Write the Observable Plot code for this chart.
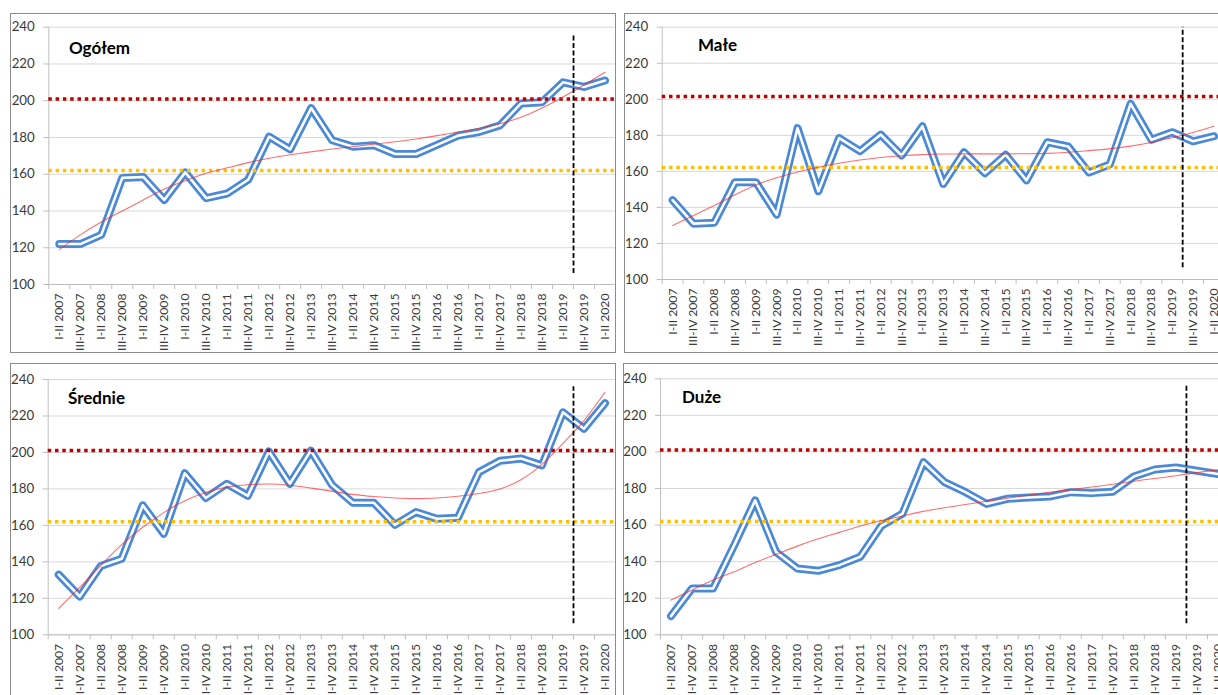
<!DOCTYPE html>
<html>
<head>
<meta charset="utf-8">
<script src="https://cdn.jsdelivr.net/npm/d3@7"></script>
<script src="https://cdn.jsdelivr.net/npm/@observablehq/plot@0.6"></script>
<style>
  html, body { margin: 0; padding: 0; background: #fff; }
  body { width: 1218px; height: 695px; overflow: hidden; position: relative; font-family: Lato, "Noto Sans", sans-serif; }
  .panel { position: absolute; box-sizing: border-box; border: 1px solid #8c8c8c; overflow: hidden; background: #fff; }
  .panel svg { position: absolute; left: -1px; top: -1px; max-width: none !important; overflow: visible; }
</style>
</head>
<body>
<script>
// ---- categories / tick labels ----
const periods = [
  "I-II 2007","III-IV 2007","I-II 2008","III-IV 2008","I-II 2009","III-IV 2009",
  "I-II 2010","III-IV 2010","I-II 2011","III-IV 2011","I-II 2012","III-IV 2012",
  "I-II 2013","III-IV 2013","I-II 2014","III-IV 2014","I-II 2015","III-IV 2015",
  "I-II 2016","III-IV 2016","I-II 2017","III-IV 2017","I-II 2018","III-IV 2018",
  "I-II 2019","III-IV 2019","I-II 2020"
];
const yTicks = [100, 120, 140, 160, 180, 200, 220, 240];

// ---- series values ----
const ogolem = [122, 122, 127, 158, 158.5, 146, 161, 147, 149.5, 157, 180.5, 173.5, 196, 178.5, 175, 175.8, 171, 171, 176, 181, 183, 186.6, 198.5, 199.2, 210, 207.5, 211];
const ogolemTrend = [119, 127, 134, 140, 146, 152, 156.5, 160.5, 163.5, 166.3, 168.7, 170.6, 172.2, 173.7, 175, 176.3, 177.7, 179.2, 181, 183, 185, 187.5, 191, 196, 202, 208.5, 215.5];

const male = [144, 131, 131.5, 154, 154, 136, 184, 149, 178.5, 171.2, 180.4, 168.8, 185, 153, 170.6, 159, 169.2, 155, 176.2, 173.8, 159.4, 163.8, 197.5, 177.5, 181.7, 176.7, 179.5];
const maleTrend = [130, 135.5, 141, 147, 152.5, 156.5, 159.7, 162.3, 164.5, 166.3, 167.7, 168.7, 169.3, 169.6, 169.7, 169.7, 169.7, 169.8, 170, 170.6, 171.5, 172.5, 174, 176, 178.7, 181.6, 185];

const srednie = [133, 121, 137.7, 141.7, 171, 155.4, 188.6, 175, 182.8, 176.2, 200.5, 182.8, 201, 182.3, 172.4, 172.4, 160.3, 167.3, 163.6, 164.2, 189.2, 195.4, 196.7, 192.9, 222, 213, 227];
const srednieTrend = [114.5, 126, 138, 149.5, 159, 167, 173.5, 178, 181, 182.3, 182.7, 182, 180.5, 178.8, 177, 175.8, 175, 174.7, 175, 176, 177.5, 180, 185, 193.5, 205, 217.5, 233];

const duze = [110.2, 125.3, 125.3, 148.9, 173.5, 145.2, 136.3, 135, 138.1, 142.7, 159.6, 166.2, 194.4, 183.5, 178, 171.6, 174.4, 175.1, 175.6, 178, 177.5, 178.2, 186.6, 190.4, 191.5, 189.7, 187.9];
const duzeTrend = [119, 124.5, 130, 134.5, 139.5, 144, 148.5, 152.5, 156, 159.5, 162.5, 165, 167.5, 169.5, 171.3, 173, 174.7, 176.3, 178, 179.4, 180.8, 182.3, 184, 185.5, 187, 188.7, 190.3];

// ---- reference levels ----
const titles = ["Ogółem", "Małe", "Średnie", "Duże"];
const redLevel = [201, 201.5, 201, 201];
const yellowLevel = [162, 162.2, 162, 162];
const markerAt = 24.5;                 // between I-II 2019 and III-IV 2019
const markerFrom = [106, 106.5, 106, 106];
const markerTo = [236, 240, 236, 236];

// ---- layout (page px) ----
const panels = [
  {left: 10,  top: 13,  w: 606, h: 340, svgW: 605, svgH: 340, ml: 38.3, mr: 0,   mt: 13.7, mb: 69,   tx: 68,  ty: 52.7},
  {left: 624, top: 13,  w: 640, h: 340, svgW: 600, svgH: 340, ml: 37.7, mr: 0.2, mt: 13.7, mb: 74,   tx: 697, ty: 50},
  {left: 10,  top: 363, w: 606, h: 400, svgW: 605, svgH: 340, ml: 37.7, mr: 0,   mt: 16,   mb: 68.7, tx: 67,  ty: 403},
  {left: 623, top: 363, w: 640, h: 400, svgW: 605, svgH: 340, ml: 37,   mr: 0,   mt: 15.3, mb: 68.7, tx: 681, ty: 402}
];
const seriesList = [ogolem, male, srednie, duze];
const trendList = [ogolemTrend, maleTrend, srednieTrend, duzeTrend];

const BLUE = "#4a89d6";
const idx = periods.map((_, i) => i);
const bounds = periods.map((_, i) => i - 0.5).concat([periods.length - 0.5]);

panels.forEach((p, k) => {
  const data = seriesList[k].map((v, i) => ({i, v}));
  const trend = trendList[k].map((v, i) => ({i, v}));
  const div = document.createElement("div");
  div.className = "panel";
  Object.assign(div.style, {left: p.left + "px", top: p.top + "px", width: p.w + "px", height: p.h + "px"});
  document.body.appendChild(div);

  const svg = Plot.plot({
    width: p.svgW, height: p.svgH,
    marginLeft: p.ml, marginRight: p.mr, marginTop: p.mt, marginBottom: p.mb,
    x: {type: "linear", domain: [-0.5, periods.length - 0.5], label: null},
    y: {type: "linear", domain: [100, 240], label: null},
    style: {fontFamily: "Lato, 'Noto Sans', sans-serif", background: "transparent", overflow: "visible"},
    marks: [
      Plot.gridY(yTicks, {stroke: "#d9d9d9", strokeOpacity: 1, strokeWidth: 1}),
      Plot.ruleY([100], {stroke: "#bfbfbf"}),
      Plot.ruleX([-0.5], {stroke: "#bfbfbf"}),
      Plot.axisY(yTicks, {label: null, tickSize: 5, tickPadding: 9, stroke: "#bfbfbf", fill: "#3a3a3a", fontSize: 13.3, tickFormat: d => String(d)}),
      Plot.axisX(bounds, {label: null, tickSize: 5, stroke: "#bfbfbf", tickFormat: () => ""}),
      Plot.axisX(idx, {label: null, tickSize: 0, tickPadding: 9, tickRotate: -90, fill: "#3a3a3a", fontSize: 12.2, tickFormat: i => periods[i]}),
      Plot.line(data, {x: "i", y: "v", stroke: BLUE, strokeWidth: 8, strokeLinejoin: "round", strokeLinecap: "round"}),
      Plot.line(data, {x: "i", y: "v", stroke: "#ffffff", strokeWidth: 2.6, strokeLinejoin: "round", strokeLinecap: "round"}),
      Plot.ruleY([redLevel[k]], {stroke: "#c00000", strokeWidth: 3.5, strokeDasharray: "3.5,3.8"}),
      Plot.ruleY([yellowLevel[k]], {stroke: "#ffc000", strokeWidth: 3.5, strokeDasharray: "3.5,3.8"}),
      Plot.line(trend, {x: "i", y: "v", stroke: "#ff2020", strokeOpacity: 0.65, strokeWidth: 1.1, curve: "natural"}),
      Plot.ruleX([markerAt], {y1: markerFrom[k], y2: markerTo[k], stroke: "#000", strokeWidth: 1.8, strokeDasharray: "5,2.5"})
    ]
  });
  div.appendChild(svg);
  d3.select(svg).append("text")
    .attr("x", p.tx - p.left + 1)
    .attr("y", p.ty - p.top + 1)
    .attr("text-anchor", "start")
    .attr("font-family", "Lato, 'Noto Sans', sans-serif")
    .attr("font-weight", "bold")
    .attr("font-size", 17)
    .attr("fill", "#000")
    .text(titles[k]);
});
</script>
</body>
</html>
